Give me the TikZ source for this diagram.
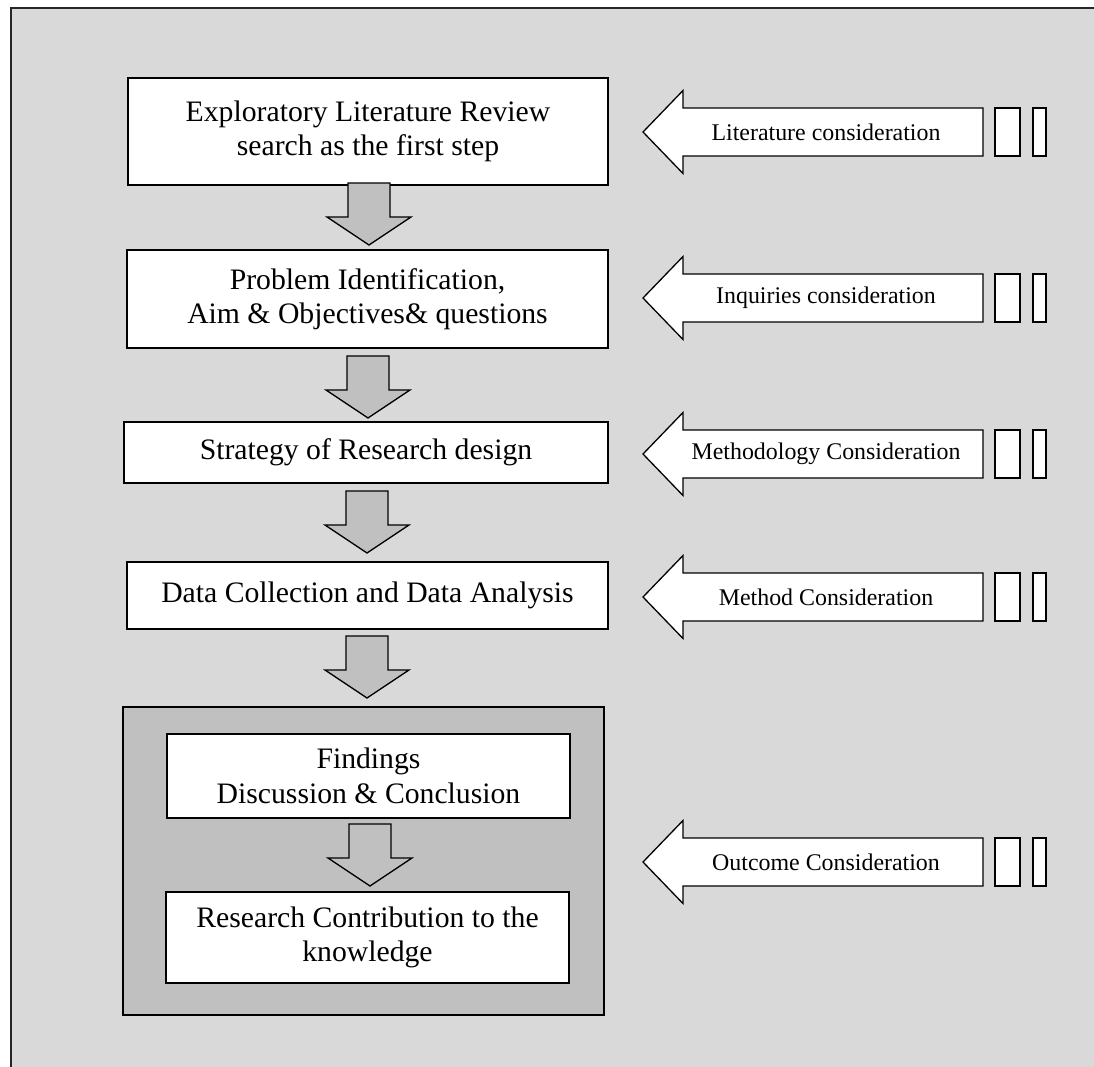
\documentclass[tikz,border=0pt]{standalone}
\usepackage{fontspec}
\setmainfont{Liberation Serif}
\usetikzlibrary{calc}
\definecolor{bggray}{RGB}{217,217,217}
\definecolor{midgray}{RGB}{192,192,192}
\newcommand\mainfs{\fontsize{29.7}{34.5}\selectfont}
\newcommand\labfs{\fontsize{23.9}{28}\selectfont}
\tikzset{
  stepbox/.style={draw=black, line width=1.6pt, fill=white, align=center, font=\mainfs, inner sep=0pt},
  arrline/.style={draw=black, line width=1.3pt, line join=miter},
  lbl/.style={font=\labfs, inner sep=0pt},
  downarr/.pic={
    \path[arrline, fill=midgray] (0,0) -- (42,-28) -- (21,-28) -- (21,-62) -- (-21,-62) -- (-21,-28) -- (-42,-28) -- cycle;
  },
  leftarr/.pic={
    \path[arrline, fill=white] (0,0) -- (40,-41.5) -- (40,-24) -- (340,-24) -- (340,24) -- (40,24) -- (40,41.5) -- cycle;
    \path[arrline, fill=white] (352,-24) rectangle (377,24);
    \path[arrline, fill=white] (390,-24) rectangle (403,24);
  }
}
\begin{document}
\begin{tikzpicture}[x=1pt,y=-1pt]
\useasboundingbox (0,0) rectangle (1094,1066);
\fill[white] (-10,-10) rectangle (1110,1080);
\path[fill=bggray, draw=black!85, line width=1.6pt] (11,8) rectangle (1120,1090);

% main column
\node[stepbox, minimum width=480, minimum height=107] (b1) at (368,131.5)
  {Exploratory Literature Review\\search as the first step};
\node[stepbox, minimum width=481, minimum height=98] (b2) at (367.5,299)
  {Problem Identification,\\Aim \& Objectives\& questions};
\node[stepbox, minimum width=484, minimum height=61] (b3) at (366,452.5)
  {Strategy of Research design};
\node[stepbox, minimum width=481, minimum height=67] (b4) at (367.5,595.5)
  {Data Collection and Data Analysis};

% outcome container
\node[draw=black, line width=1.2pt, fill=midgray, minimum width=481, minimum height=308, inner sep=0pt] (c) at (363.5,861) {};
\node[stepbox, minimum width=403, minimum height=84] (b5) at (368.5,776)
  {Findings\\Discussion \& Conclusion};
\node[stepbox, minimum width=403, minimum height=91] (b6) at (367.5,937.5)
  {Research Contribution to the\\knowledge};

% down arrows
\pic (d1) at (369,245) {downarr};
\pic (d2) at (368,418) {downarr};
\pic (d3) at (367,553) {downarr};
\pic (d4) at (367,698) {downarr};
\pic (d5) at (370,886) {downarr};

% right-side consideration arrows
\pic (r1) at (643,132) {leftarr};
\pic (r2) at (643,298) {leftarr};
\pic (r3) at (643,454) {leftarr};
\pic (r4) at (643,597) {leftarr};
\pic (r5) at (643,862) {leftarr};
\node[lbl] (l1) at (826,132) {Literature consideration};
\node[lbl] (l2) at (826,298) {Inquiries consideration};
\node[lbl] (l3) at (826,454) {Methodology Consideration};
\node[lbl] (l4) at (826,597) {Method Consideration};
\node[lbl] (l5) at (826,862) {Outcome Consideration};
\end{tikzpicture}
\end{document}
